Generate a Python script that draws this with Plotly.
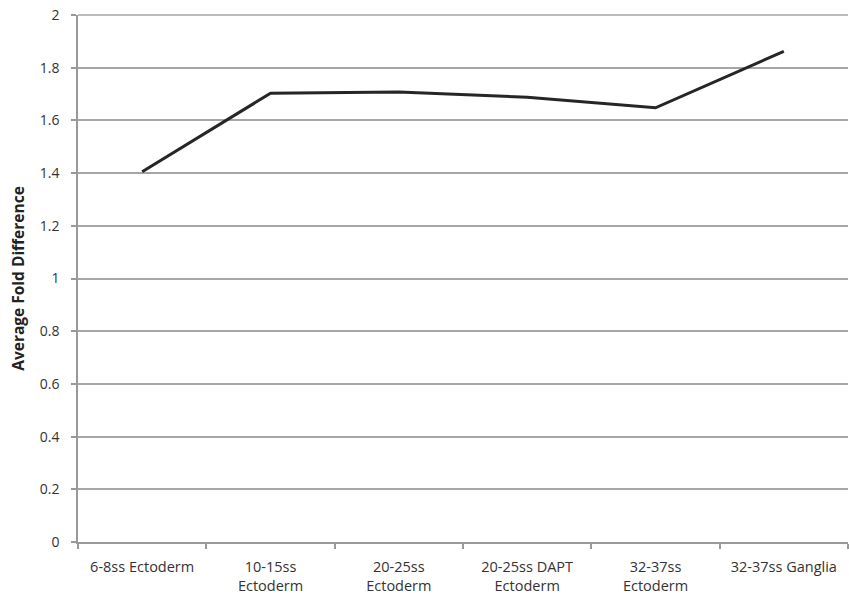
import plotly.graph_objects as go

categories = ["6-8ss Ectoderm", "10-15ss<br>Ectoderm", "20-25ss<br>Ectoderm",
              "20-25ss DAPT<br>Ectoderm", "32-37ss<br>Ectoderm", "32-37ss Ganglia"]
values = [1.405, 1.703, 1.708, 1.688, 1.648, 1.862]
y_ticks = [0, 0.2, 0.4, 0.6, 0.8, 1, 1.2, 1.4, 1.6, 1.8, 2]
y_tick_labels = ["0", "0.2", "0.4", "0.6", "0.8", "1", "1.2", "1.4", "1.6", "1.8", "2"]

fig = go.Figure()
fig.add_trace(go.Scatter(x=categories, y=values, mode="lines",
                         line=dict(color="#262626", width=3)))

# top gridline (plotly drops gridlines lying on the plot edge); paper-ref so it is not clipped
fig.add_shape(type="line", xref="paper", yref="paper", x0=0, x1=1, y0=1, y1=1,
              line=dict(color="#a6a6a6", width=1.5), layer="below")

fig.update_layout(
    width=849, height=601,
    margin=dict(l=78, r=1, t=15, b=59),
    paper_bgcolor="white", plot_bgcolor="white",
    showlegend=False,
    font=dict(family="Open Sans, sans-serif", size=12, color="#333"),
    xaxis=dict(
        type="category",
        automargin=False,
        tickson="boundaries",
        ticks="outside", ticklen=5, tickcolor="#999", tickwidth=1.5,
        showline=True, linecolor="#999", linewidth=1.5,
        showgrid=False,
        tickfont=dict(size=14.5, color="#333"),
        ticklabelstandoff=11,
        range=[-0.5, 5.5],
    ),
    yaxis=dict(
        automargin=False,
        range=[0, 2],
        tickvals=y_ticks, ticktext=y_tick_labels,
        ticks="outside", ticklen=5, tickcolor="#999", tickwidth=1.5,
        showline=True, linecolor="#999", linewidth=1.5,
        showgrid=True, gridcolor="#a6a6a6", gridwidth=1.5,
        zeroline=False,
        tickfont=dict(size=14, color="#333"),
        ticklabelstandoff=9,
        title=dict(text="<b>Average Fold Difference</b>", font=dict(size=15.5, color="#222"), standoff=11),
    ),
)

fig.write_html("out.html", config={"displayModeBar": False},
               post_script="document.body.style.margin='0';document.body.style.overflow='hidden';")
